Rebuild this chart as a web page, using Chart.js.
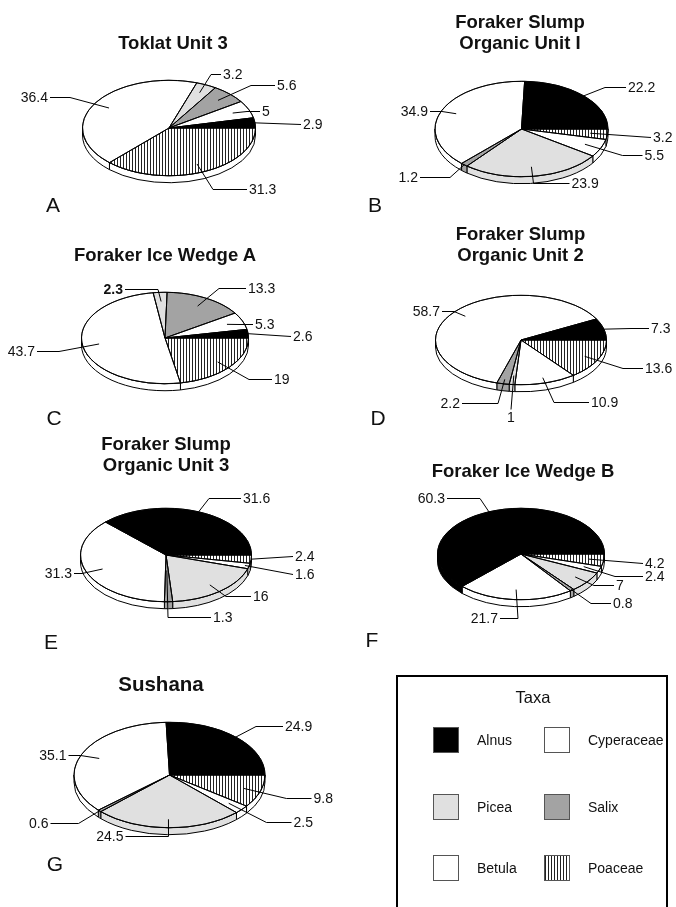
<!DOCTYPE html>
<html>
<head>
  <title>Pollen taxa pie charts</title>
  <meta name="viewport" content="width=device-width, initial-scale=1">
  <script src="https://cdn.jsdelivr.net/npm/chart.js"></script>
  <style>
    body {
      margin: 0;
      padding: 0;
      background: #fff;
      font-family: 'Liberation Sans', Arial, sans-serif;
      color: #111;
    }
    #page {
      position: relative;
      width: 676px;
      height: 907px;
      overflow: hidden;
    }
    #page canvas {
      position: absolute;
      left: 0;
      top: 0;
      pointer-events: none;
    }
    .title {
      position: absolute;
      transform: translate(-50%, -50%);
      font-weight: bold;
      font-size: 18.5px;
      line-height: 21px;
      text-align: center;
      white-space: nowrap;
    }
    .letter {
      position: absolute;
      transform: translate(-50%, -50%);
      font-size: 21px;
      line-height: 1;
    }
    #legend {
      position: absolute;
      left: 396px;
      top: 675px;
      width: 268px;
      height: 250px;
      border: 2px solid #000;
    }
    .lg-title {
      position: absolute;
      transform: translate(-50%, -50%);
      font-size: 16.5px;
    }
    .swatch {
      position: absolute;
      width: 24px;
      height: 24px;
      border: 1px solid #555;
    }
    .lg-text {
      position: absolute;
      transform: translateY(-50%);
      font-size: 14px;
    }
  </style>
</head>
<body>
<div id="page"></div>

<script>
  // sites, in panel order A..G
  const sites = ['Toklat Unit 3', 'Foraker Slump|Organic Unit I', 'Foraker Ice Wedge A',
                 'Foraker Slump|Organic Unit 2', 'Foraker Slump|Organic Unit 3',
                 'Foraker Ice Wedge B', 'Sushana'];
  const panelLetters = ['A', 'B', 'C', 'D', 'E', 'F', 'G'];

  // slice order, clockwise from 3 o'clock
  const taxa = ['Poaceae', 'Betula', 'Picea', 'Salix', 'Cyperaceae', 'Alnus'];

  // percentages per site (A..G)
  const poaceae    = [31.3, 3.2, 19, 13.6, 2.4, 4.2, 9.8];
  const betula     = [36.4, 5.5, 43.7, 10.9, 1.6, 2.4, 2.5];
  const picea      = [3.2, 23.9, 2.3, 1, 16, 7, 24.5];
  const salix      = [5.6, 1.2, 13.3, 2.2, 1.3, 0.8, 0.6];
  const cyperaceae = [5, 34.9, 5.3, 58.7, 31.3, 21.7, 35.1];
  const alnus      = [2.9, 22.2, 2.6, 7.3, 31.6, 60.3, 24.9];

  // legend order (2 columns)
  const legendTaxa = ['Alnus', 'Cyperaceae', 'Picea', 'Salix', 'Betula', 'Poaceae'];

  // ---- layout (not data) ----
  const W = 676, H = 907, DEPTH = 7;
  const FONT = '"Liberation Sans", Arial, sans-serif';
  const colors = { Alnus: '#000', Cyperaceae: '#fff', Picea: '#e0e0e0', Salix: '#a3a3a3', Betula: '#fff' };

  // cx, cy, rx, ry of each tilted pie
  const geom = [
    [169, 128, 87, 48],
    [521.5, 129, 87, 48],
    [165, 338, 84, 46],
    [521, 340, 86, 45],
    [166, 555, 86, 47],
    [521, 554, 84, 46],
    [169.5, 775, 96, 53]
  ];
  // title centre, letter centre
  const titlePos = [[173, 42], [520, 32], [165, 254], [520.5, 244], [166, 454], [523, 470], [161, 683]];
  const letterPos = [[53, 204], [375, 204], [54, 417], [378, 417], [51, 641], [372, 639], [55, 863]];

  // label placement per slice: [dx, dy from centre, elbow length, depth into slice, style]
  const labelLayout = [
    [[80, 61, 34, 0.82], [-121, -31, 20, 0.81], [54, -54, 10, 0.82], [108, -43, 24, 0.81], [93, -17, 13, 0.8], [134, -4, 0, 1]],
    [[131.5, 8, 0, 0.8], [123, 26, 20, 0.8], [50, 54, 36, 0.8], [-103.5, 48, 30, 1], [-93.5, -18, 12, 0.82], [106.5, -42, 21, 1]],
    [[109, 41, 23, 0.82], [-130, 13, 22, 0.8], [-42, -49, 33, 0.8, 'b'], [83, -50, 27, 0.8], [90, -14, 13, 0.8], [128, -2, 0, 1]],
    [[124, 28, 20, 0.83], [70, 62, 35, 0.88], [-10, 77, 0, 0.8, 'c'], [-61, 63, 36, 0.9], [-81, -29, 12, 0.84], [130, -12, 18, 1]],
    [[129, 1, 0, 1], [129, 19, 0, 0.95], [87, 41, 25, 0.82], [47, 62, 43, 0.33], [-94, 18, 8, 0.8], [77, -57, 32, 1]],
    [[124, 9, 0, 0.82], [124, 22, 28, 0.8], [95, 31, 20, 0.82], [92, 49, 20, 0.98], [-23, 64, 18, 0.78], [-76, -56, 33, 1]],
    [[144, 23, 25, 0.82], [124, 47, 25, 0.82], [-46, 61, 43, 0.84], [-121, 48, 28, 1], [-103, -20, 12, 0.8], [115.5, -49, 27, 1]]
  ];

  const page = document.getElementById('page');

  function hatchPattern(ctx) {
    const tile = document.createElement('canvas');
    tile.width = 3; tile.height = 3;
    const g = tile.getContext('2d');
    g.fillStyle = '#fff'; g.fillRect(0, 0, 3, 3);
    g.fillStyle = '#222'; g.fillRect(0, 0, 1, 3);
    return ctx.createPattern(tile, 'repeat');
  }

  // squashes the pie into an ellipse and adds the rim + leader labels
  function tiltPlugin(idx) {
    const k = geom[idx][3] / geom[idx][2];
    return {
      id: 'tilt',
      beforeDatasetsDraw(chart) {
        const ctx = chart.ctx;
        const arcs = chart.getDatasetMeta(0).data;
        ctx.save();
        ctx.lineWidth = 1;
        ctx.strokeStyle = '#000';
        arcs.forEach((a, i) => {
          const rx = a.outerRadius, ry = rx * k;
          const s = Math.max(a.startAngle, 0), e = Math.min(a.endAngle, Math.PI);
          if (e <= s) return;
          ctx.beginPath();
          ctx.ellipse(a.x, a.y, rx, ry, 0, s, e);
          ctx.ellipse(a.x, a.y + DEPTH, rx, ry, 0, e, s, true);
          ctx.closePath();
          const name = taxa[i];
          ctx.fillStyle = name === 'Poaceae' ? '#fff' : colors[name];
          ctx.fill();
          ctx.stroke();
        });
        ctx.restore();
        const c = arcs[0];
        ctx.save();
        ctx.translate(c.x, c.y);
        ctx.scale(1, k);
        ctx.translate(-c.x, -c.y);
      },
      afterDatasetsDraw(chart) {
        const ctx = chart.ctx;
        ctx.restore();
        const arcs = chart.getDatasetMeta(0).data;
        const values = chart.data.datasets[0].data;
        const cx = arcs[0].x, cy = arcs[0].y;
        const rx = arcs[0].outerRadius, ry = rx * k;

        ctx.save();
        ctx.lineWidth = 1;
        ctx.strokeStyle = '#000';
        ctx.beginPath();
        ctx.ellipse(cx, cy, rx, ry, 0, 0, Math.PI * 2);
        ctx.stroke();
        arcs.forEach(a => {
          ctx.beginPath();
          ctx.moveTo(cx, cy);
          ctx.lineTo(cx + rx * Math.cos(a.startAngle), cy + ry * Math.sin(a.startAngle));
          ctx.stroke();
        });

        ctx.fillStyle = '#111';
        ctx.textBaseline = 'middle';
        labelLayout[idx].forEach(([dx, dy, hl, f, st], i) => {
          const a = arcs[i];
          const mid = (a.startAngle + a.endAngle) / 2;
          const ix = cx + f * rx * Math.cos(mid);
          const iy = cy + f * ry * Math.sin(mid);
          const lx = cx + dx;
          const ly = Math.round(cy + dy) + 0.5;
          ctx.beginPath();
          if (st === 'c') {
            ctx.textAlign = 'center';
            ctx.moveTo(lx, ly - 8);
            ctx.lineTo(ix, iy);
          } else if (dx > 0) {
            ctx.textAlign = 'left';
            ctx.moveTo(lx - 2, ly);
            ctx.lineTo(lx - 2 - hl, ly);
            ctx.lineTo(ix, iy);
          } else {
            ctx.textAlign = 'right';
            ctx.moveTo(lx + 2, ly);
            ctx.lineTo(lx + 2 + hl, ly);
            ctx.lineTo(ix, iy);
          }
          ctx.stroke();
          ctx.font = (st === 'b' ? 'bold ' : '') + '14px ' + FONT;
          ctx.fillText(String(values[i]), lx, ly + 1);
        });
        ctx.restore();
      }
    };
  }

  sites.forEach((site, idx) => {
    const [cx, cy, rx] = geom[idx];
    const cv = document.createElement('canvas');
    cv.width = W; cv.height = H;
    page.appendChild(cv);
    const ctx = cv.getContext('2d');
    const values = [poaceae[idx], betula[idx], picea[idx], salix[idx], cyperaceae[idx], alnus[idx]];
    const fills = taxa.map(t => t === 'Poaceae' ? hatchPattern(ctx) : colors[t]);

    new Chart(ctx, {
      type: 'pie',
      data: {
        labels: taxa,
        datasets: [{
          data: values,
          backgroundColor: fills,
          borderColor: '#000',
          borderWidth: 1
        }]
      },
      options: {
        responsive: false,
        animation: false,
        events: [],
        rotation: 90,
        layout: { padding: { left: cx - rx, right: W - cx - rx, top: cy - rx, bottom: H - cy - rx } },
        plugins: { legend: { display: false }, tooltip: { enabled: false } }
      },
      plugins: [tiltPlugin(idx)]
    });

    const t = document.createElement('div');
    t.className = 'title';
    t.innerHTML = site.split('|').join('<br>');
    t.style.left = titlePos[idx][0] + 'px';
    t.style.top = titlePos[idx][1] + 'px';
    if (site === 'Sushana') t.style.fontSize = '20.5px';
    page.appendChild(t);

    const l = document.createElement('div');
    l.className = 'letter';
    l.textContent = panelLetters[idx];
    l.style.left = letterPos[idx][0] + 'px';
    l.style.top = letterPos[idx][1] + 'px';
    page.appendChild(l);
  });

  // legend box
  const legend = document.createElement('div');
  legend.id = 'legend';
  page.appendChild(legend);
  const lt = document.createElement('div');
  lt.className = 'lg-title';
  lt.textContent = 'Taxa';
  lt.style.left = '533px';
  lt.style.top = '697px';
  page.appendChild(lt);

  const rowY = [740, 807, 868];
  const colX = [433, 544];
  legendTaxa.forEach((name, i) => {
    const x = colX[i % 2], y = rowY[Math.floor(i / 2)];
    const sw = document.createElement('div');
    sw.className = 'swatch';
    sw.style.left = x + 'px';
    sw.style.top = (y - 13) + 'px';
    sw.style.background = name === 'Poaceae'
      ? 'repeating-linear-gradient(90deg, #222 0 1px, #fff 1px 3px)'
      : colors[name];
    page.appendChild(sw);
    const tx = document.createElement('div');
    tx.className = 'lg-text';
    tx.textContent = name;
    tx.style.left = (x + 44) + 'px';
    tx.style.top = y + 'px';
    page.appendChild(tx);
  });
</script>
</body>
</html>
